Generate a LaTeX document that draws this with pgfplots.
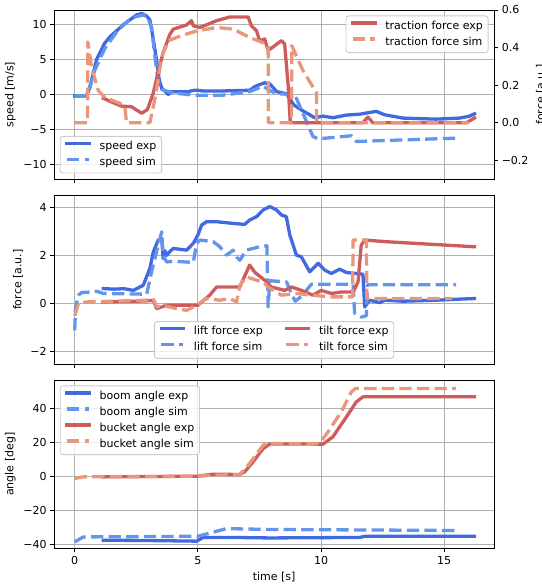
\documentclass[border=0pt]{standalone}
\usepackage{fontspec}
\setmainfont{DejaVu Sans}
\usepackage{pgfplots}
\pgfplotsset{compat=1.18}

\definecolor{expblue}{RGB}{65,105,225}
\definecolor{simblue}{RGB}{100,149,237}
\definecolor{expred}{RGB}{205,92,92}
\definecolor{simred}{RGB}{233,150,122}
\definecolor{gridgray}{RGB}{176,176,176}
\definecolor{legendgray}{RGB}{204,204,204}

\pgfplotsset{
  panel/.style={
    anchor=south west, width=439.7pt, scale only axis,
    xmin=-0.83, xmax=17.02,
    xtick={0,5,10,15},
    grid=major,
    major grid style={draw=gridgray, line width=0.89pt},
    axis line style={line width=0.89pt},
    tick style={draw=black, line width=0.89pt},
    major tick length=3.9pt,
    tick align=outside,
    legend cell align=left,
    legend image code/.code={\draw[##1] (0pt,3.4pt) -- (22pt,3.4pt);},
    legend style={draw=legendgray, line width=0.89pt, rounded corners=2.5pt,
      fill=white, fill opacity=0.8, text opacity=1,
      inner xsep=5.2pt, inner ysep=5.1pt, row sep=5.5pt,
      nodes={inner sep=0pt, text height=8pt, text depth=2.5pt},
      /tikz/every odd column/.append style={column sep=8.9pt},
      /tikz/every even column/.append style={column sep=22pt}},
  },
  leftpanel/.style={panel, xtick pos=left, ytick pos=left},
  exp/.style={line width=3.3pt, line cap=rect, line join=round},
  sim/.style={line width=3.3pt, line cap=butt, line join=round,
    dash pattern=on 12.3pt off 5.3pt},
}

\begin{document}
\fontsize{11}{13.2}\selectfont
\begin{tikzpicture}

% speed panel
\begin{axis}[leftpanel, at={(54.3pt,409pt)}, height=169pt,
  ymin=-12, ymax=12,
  ytick={-10,-5,0,5,10}, yticklabels={−10,−5,0,5,10},
  xticklabels={},
  ylabel={speed [m/s]},
  legend style={at={(0,0)}, anchor=south west, xshift=5.5pt, yshift=5.5pt}]
\addplot[exp, expblue] coordinates {
(0,-0.2)(0.46,-0.2)(0.6,0.8)(0.89,5.0)(1.2,7.2)(1.43,8.2)(1.97,9.9)(2.51,11.3)
(2.72,11.5)(2.9,11.2)(3.05,10.6)(3.19,7.8)(3.32,4.9)(3.43,2.1)(3.53,0.9)(3.65,0.5)
(3.8,0.0)(3.9,0.4)(4.3,0.4)(4.6,0.4)(4.85,0.6)(5.0,0.6)(5.2,0.5)(6.0,0.5)(7.11,0.6)
(7.3,1.1)(7.5,1.4)(7.71,1.66)(7.92,1.5)(8.2,0.4)(8.6,0.1)(8.9,-1.5)(9.27,-2.35)
(9.5,-2.8)(9.74,-3.3)(10.08,-3.07)(10.48,-3.3)(11.03,-2.92)(11.57,-2.8)(11.97,-2.55)
(12.24,-2.4)(12.58,-2.88)(13.32,-3.35)(14.67,-3.5)(15.62,-3.35)(16.0,-3.1)(16.23,-2.74)
};
\addlegendentry{speed exp}
\addplot[sim, simblue] coordinates {
(0,-0.2)(0.45,-0.2)(0.55,0.5)(0.82,3.5)(1.23,6.6)(1.77,9.2)(2.31,10.9)(2.78,11.3)
(2.95,11.0)(3.12,9.5)(3.26,5.2)(3.39,1.9)(3.53,0.7)(4.0,0.2)(4.9,-0.1)(6.0,-0.1)
(7.1,0.4)(7.65,1.2)(7.9,0.6)(8.2,0.1)(8.93,0)(9.67,-5.96)(9.87,-6.3)(11.23,-5.86)
(11.43,-6.67)(15.48,-6.2)
};
\addlegendentry{speed sim}
\end{axis}

% traction force, right axis
\begin{axis}[panel, at={(54.3pt,409pt)}, height=169pt,
  ymin=-0.3, ymax=0.6,
  axis y line*=right, axis x line=none, grid=none,
  ytick={-0.2,0,0.2,0.4,0.6}, yticklabels={−0.2,0.0,0.2,0.4,0.6},
  ylabel={force [a.u.]},
  legend style={at={(1,1)}, anchor=north east, xshift=-5.5pt, yshift=-5.5pt}]
\addplot[exp, expred] coordinates {
(1.16,0.13)(1.5,0.11)(1.9,0.088)(2.3,0.085)(2.72,0.05)(2.95,0.07)(3.19,0.158)
(3.39,0.274)(3.59,0.373)(3.86,0.47)(4.0,0.498)(4.54,0.52)(4.74,0.543)(4.81,0.516)
(5.08,0.507)(5.76,0.543)(6.3,0.563)(7.04,0.563)(7.17,0.516)(7.38,0.489)(7.51,0.435)
(7.71,0.446)(7.85,0.384)(8.12,0.41)(8.39,0.437)(8.52,0.42)(8.66,0.204)(8.75,0)
(11.7,0)(11.9,0.03)(12.1,0)(15.9,0)(16.23,0.025)
};
\addlegendentry{traction force exp}
\addplot[sim, simred] coordinates {
(0,0)(0.52,0)(0.53,0.43)(0.69,0.29)(0.96,0.17)(1.23,0.133)(1.9,0.1)(2.04,0.08)
(2.1,0)(3.05,0)(3.26,0.13)(3.53,0.35)(3.8,0.437)(4.34,0.464)(5.0,0.49)(5.76,0.507)
(6.43,0.498)(7.1,0.454)(7.65,0.425)(7.85,0.41)(7.86,0)(8.8,0)(8.81,0.41)(9.27,0.276)
(9.81,0.16)(9.82,0)(16.0,0)
};
\addlegendentry{traction force sim}
\end{axis}

% lift / tilt force panel
\begin{axis}[leftpanel, at={(54.3pt,223.7pt)}, height=169.3pt,
  ymin=-2.52, ymax=4.51,
  ytick={-2,0,2,4}, yticklabels={−2,0,2,4},
  xticklabels={},
  ylabel={force [a.u.]},
  legend columns=2,
  legend style={at={(0.5,0)}, anchor=south, yshift=5.5pt}]
\addplot[exp, expblue, forget plot] coordinates {
(1.16,0.625)(1.6,0.6)(2.0,0.62)(2.38,0.55)(2.78,0.76)(3.05,1.46)(3.19,2.15)(3.39,2.64)
(3.53,2.7)(3.59,1.87)(3.66,2.2)(3.73,2.0)(3.85,2.15)(4.0,2.29)(4.54,2.22)(4.81,2.5)
(5.0,2.85)(5.15,3.26)(5.35,3.4)(5.76,3.4)(6.43,3.33)(6.9,3.29)(7.1,3.47)(7.38,3.61)
(7.65,3.89)(7.92,4.03)(8.19,3.89)(8.39,3.68)(8.59,3.61)(8.73,2.85)(9.0,2.01)(9.2,1.94)
(9.54,1.32)(9.88,1.67)(10.15,1.39)(10.42,1.25)(10.75,1.43)(11.03,1.29)(11.43,1.25)
(11.7,1.22)(11.77,-0.14)(11.97,0.14)(12.38,0.04)(12.58,0.14)(13.32,0.1)(14.67,0.14)
(15.48,0.18)(16.23,0.21)
};
\addplot[sim, simblue, forget plot] coordinates {
(0,-1.11)(0.03,-0.2)(0.15,0.35)(0.28,0.46)(0.62,0.48)(0.89,0.51)(1.16,0.42)(2.92,0.39)
(3.12,1.32)(3.32,2.15)(3.53,2.98)(3.59,2.01)(3.73,1.73)(4.0,1.76)(4.81,1.71)(4.95,2.5)
(5.08,2.64)(5.62,2.57)(5.89,2.36)(6.16,2.01)(6.43,2.22)(6.57,1.94)(6.7,1.8)(6.97,2.22)
(7.51,2.36)(7.8,2.4)(7.85,-0.14)(7.92,0.95)(8.6,0.9)(8.8,0.4)(8.95,0.1)(9.2,0.3)
(9.6,0.8)(11.3,0.8)(11.36,-0.4)(11.63,-0.56)(11.84,-0.5)(11.88,0.78)(15.48,0.78)
};
\addplot[exp, expred, forget plot] coordinates {
(1.16,0.07)(2.92,0.11)(3.19,0.14)(3.32,-0.21)(3.73,-0.07)(5.0,-0.07)(5.48,0.35)
(5.76,0.69)(6.7,0.69)(7.1,1.6)(7.31,1.3)(7.71,0.97)(7.98,0.69)(8.52,0.55)(8.8,0.69)
(9.2,0.55)(9.67,0.35)(10.0,0.55)(10.42,0.42)(10.82,0.48)(11.3,0.48)(11.5,0.9)
(11.63,2.43)(11.77,2.64)(12.65,2.57)(16.23,2.36)
};
\addplot[sim, simred, forget plot] coordinates {
(0,-0.5)(0.15,0)(0.49,0.07)(2.92,0.14)(3.19,0.21)(3.32,-0.14)(3.59,-0.07)(4.0,-0.18)
(4.54,-0.28)(5.0,-0.04)(5.35,0.21)(5.89,0.14)(6.3,0.21)(6.57,0.07)(6.7,0.76)(6.97,1.11)
(7.38,0.97)(7.65,0.9)(7.85,0.69)(8.39,0.35)(9.06,0.42)(9.6,0.35)(10.42,0.28)(11.28,0.28)
(11.3,2.64)(11.84,2.64)(11.86,0.21)(15.32,0.21)
};
\addlegendimage{exp, expblue}\addlegendentry{lift force exp}
\addlegendimage{exp, expred}\addlegendentry{tilt force exp}
\addlegendimage{sim, simblue}\addlegendentry{lift force sim}
\addlegendimage{sim, simred}\addlegendentry{tilt force sim}
\end{axis}

% angle panel
\begin{axis}[leftpanel, at={(54.3pt,39.7pt)}, height=168.3pt,
  ymin=-42.5, ymax=56.7,
  ytick={-40,-20,0,20,40}, yticklabels={−40,−20,0,20,40},
  xticklabels={0,5,10,15},
  xlabel={time [s]},
  ylabel={angle [deg]},
  legend style={at={(0,1)}, anchor=north west, xshift=5.5pt, yshift=-5.5pt}]
\addplot[exp, expblue] coordinates {
(1.16,-37.7)(3.46,-38.0)(4.95,-38.3)(5.21,-36.1)(6.43,-36.1)(7.92,-36.4)(11.57,-36.1)
(11.77,-35.4)(16.23,-35.4)
};
\addlegendentry{boom angle exp}
\addplot[sim, simblue] coordinates {
(0,-38.7)(0.35,-35.8)(5.0,-35.4)(6.16,-30.9)(7.92,-31.4)(15.48,-32.0)
};
\addlegendentry{boom angle sim}
\addplot[exp, expred] coordinates {
(1.16,-0.4)(3.0,-0.2)(5.0,0)(5.62,1.2)(6.7,1.0)(6.9,2.6)(7.24,8.5)(7.65,16.3)
(7.92,19.0)(10.08,18.9)(10.48,23.2)(11.03,35)(11.43,43.8)(11.7,46.8)(16.23,46.8)
};
\addlegendentry{bucket angle exp}
\addplot[sim, simred] coordinates {
(0,-1.3)(0.35,-0.4)(5.0,0)(5.62,0.6)(6.7,1.0)(7.1,7.5)(7.65,18.3)(7.78,19.3)
(9.94,19.3)(10.28,26.1)(10.82,37.9)(11.23,49.7)(11.4,51.7)(15.48,51.7)
};
\addlegendentry{bucket angle sim}
\end{axis}

\pgfresetboundingbox
\useasboundingbox (0,0) rectangle (541pt,588pt);
\end{tikzpicture}
\end{document}
